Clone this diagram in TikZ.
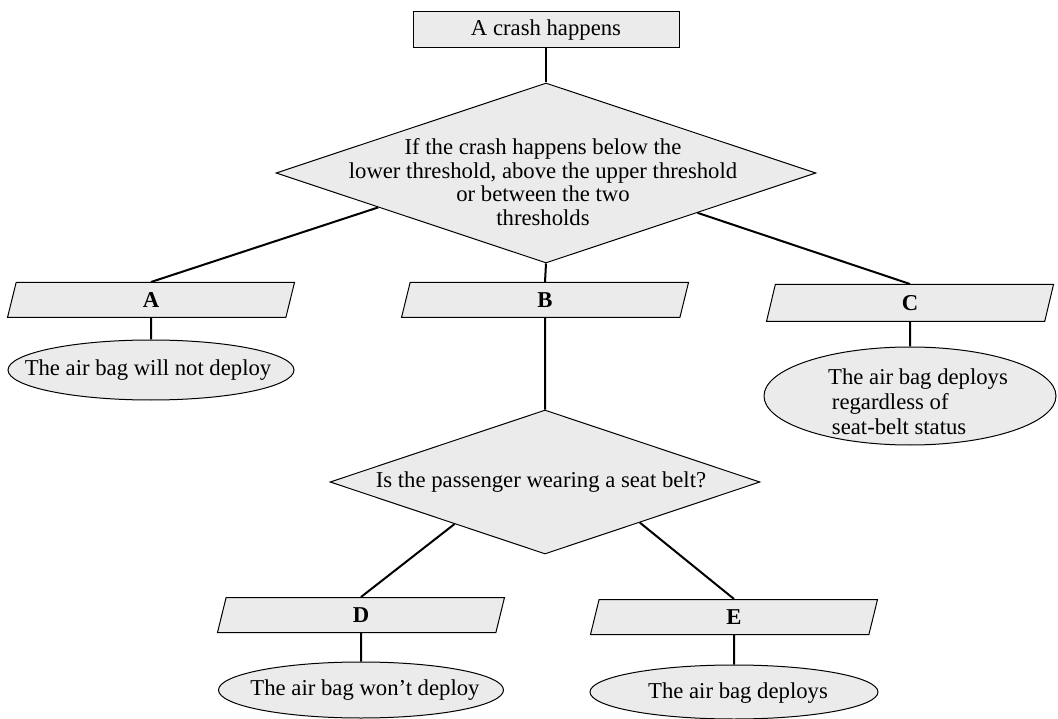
\documentclass[tikz,border=0pt]{standalone}
\usepackage{fontspec}
\setmainfont{Liberation Serif}
\usetikzlibrary{shapes.geometric,calc}
\begin{document}
\begin{tikzpicture}[x=1pt,y=-1pt,
  font=\fontsize{22.7}{23.5}\selectfont,
  shade/.style={fill=black!8, draw=black, line width=1pt},
  startbox/.style={shade, rectangle, minimum width=266pt, minimum height=36pt, inner sep=0pt},
  decision/.style={shade, diamond, inner sep=0pt},
  outcome/.style={shade, trapezium, trapezium left angle=60, trapezium right angle=120,
    trapezium stretches body, minimum width=287pt, minimum height=35pt, inner sep=0pt,
    font=\fontsize{22.7}{23.5}\selectfont\bfseries},
  result/.style={shade, ellipse, inner sep=0pt},
  plain/.style={inner sep=0pt},
  link/.style={draw=black, line width=2pt}
]
\useasboundingbox (0,0) rectangle (1058,719);

% nodes
\node[startbox] (crash) at (546,30) {A crash happens};
\node[decision, minimum width=540pt, minimum height=180pt] (d1) at (546,173) {};
\node[plain, align=center] (t1) at (543,182) {If the crash happens below the\\lower threshold, above the upper threshold\\or between the two\\thresholds};

\node[outcome] (A) at (151,300) {A};
\node[outcome] (B) at (545,300) {B};
\node[outcome, minimum height=37pt] (C) at (910,303) {C};

\node[result, minimum width=286pt, minimum height=60pt] (rA) at (151,370) {};
\node[plain] (tA) at (148,370) {The air bag will not deploy};

\node[result, minimum width=292pt, minimum height=98pt] (rC) at (910,396) {};
\node[plain, align=left, anchor=west, font=\fontsize{22.7}{25}\selectfont] (tC) at (828,402) {The air bag deploys\\\,regardless of\\\,seat-belt status};

\node[decision, minimum width=430pt, minimum height=144pt] (d2) at (545,482) {};
\node[plain] (t2) at (541,482) {Is the passenger wearing a seat belt?};

\node[outcome] (D) at (361,615) {D};
\node[outcome] (E) at (734,617) {E};

\node[result, minimum width=285pt, minimum height=56pt] (rD) at (361,690) {};
\node[plain] (tD) at (365,690) {The air bag won't deploy};
\node[result, minimum width=288pt, minimum height=54pt] (rE) at (734,692) {};
\node[plain] (tE) at (738,693) {The air bag deploys};

% connectors
\draw[link] (crash.south) -- (d1.north);
\draw[link] ($(d1.west)!0.38!(d1.south)$) -- (A.north);
\draw[link] (d1.south) -- (B.north);
\draw[link] ($(d1.east)!0.44!(d1.south)$) -- (C.north);
\draw[link] (A.south) -- (rA.north);
\draw[link] (C.south) -- (rC.north);
\draw[link] (B.south) -- (d2.north);
\draw[link] ($(d2.west)!0.58!(d2.south)$) -- (D.north);
\draw[link] ($(d2.east)!0.56!(d2.south)$) -- (E.north);
\draw[link] (D.south) -- (rD.north);
\draw[link] (E.south) -- (rE.north);
\end{tikzpicture}
\end{document}
